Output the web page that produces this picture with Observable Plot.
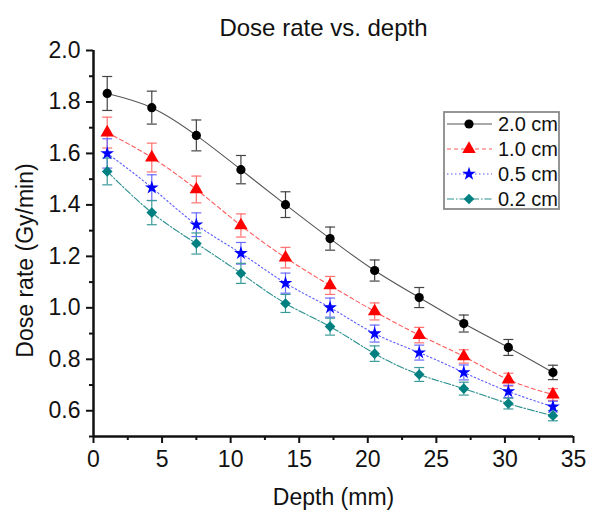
<!DOCTYPE html>
<html>
<head>
<meta charset="utf-8">
<script src="https://cdn.jsdelivr.net/npm/d3@7"></script>
<script src="https://cdn.jsdelivr.net/npm/@observablehq/plot@0.6"></script>
<style>
  body { margin: 0; background: white; }
  #chart { position: relative; width: 601px; height: 520px; font-family: "Liberation Sans", Arial, sans-serif; }
  #legend { position: absolute; left: 443px; top: 111px; }
</style>
</head>
<body>
<div id="chart"></div>
<script>
// ---- data ----
const depth = [1, 4.25, 7.5, 10.75, 14, 17.25, 20.5, 23.75, 27, 30.25, 33.5];
const seriesNames = ["2.0 cm", "1.0 cm", "0.5 cm", "0.2 cm"];
const rate20 = [1.833, 1.778, 1.670, 1.537, 1.401, 1.269, 1.145, 1.040, 0.939, 0.846, 0.749];
const err20  = [0.066, 0.064, 0.060, 0.055, 0.050, 0.045, 0.041, 0.039, 0.033, 0.031, 0.028];
const rate10 = [1.681, 1.584, 1.460, 1.320, 1.195, 1.087, 0.986, 0.894, 0.811, 0.721, 0.663];
const err10  = [0.060, 0.056, 0.052, 0.045, 0.040, 0.035, 0.033, 0.030, 0.026, 0.025, 0.023];
const rate05 = [1.600, 1.467, 1.323, 1.212, 1.096, 1.001, 0.900, 0.826, 0.749, 0.675, 0.616];
const err05  = [0.057, 0.050, 0.046, 0.042, 0.039, 0.037, 0.033, 0.029, 0.029, 0.024, 0.021];
const rate02 = [1.530, 1.370, 1.250, 1.134, 1.017, 0.927, 0.822, 0.741, 0.686, 0.628, 0.581];
const err02  = [0.052, 0.047, 0.041, 0.039, 0.035, 0.033, 0.030, 0.027, 0.025, 0.021, 0.020];
const xTicks = [0, 5, 10, 15, 20, 25, 30, 35];
const xMinor = [2.5, 7.5, 12.5, 17.5, 22.5, 27.5, 32.5];
const yTicks = [0.6, 0.8, 1.0, 1.2, 1.4, 1.6, 1.8, 2.0];
const yMinor = [0.5, 0.7, 0.9, 1.1, 1.3, 1.5, 1.7, 1.9];
const title = "Dose rate vs. depth";
const xLabel = "Depth (mm)";
const yLabel = "Dose rate (Gy/min)";

// ---- styles ----
const styles = [
  {color: "#000000", line: "#555555", err: "#444444", dash: null, symbol: "circle", r: 4.6},
  {color: "#ff0000", line: "#ff5a5a", err: "#ff7070", dash: "4,3", symbol: "triangle", r: 5},
  {color: "#0000ff", line: "#5a5aff", err: "#6a6aff", dash: "1.5,2.5", symbol: "star", r: 4.3},
  {color: "#008080", line: "#2a8f8f", err: "#3a9a9a", dash: "7,2,1.5,2", symbol: "diamond2", r: 4.8}
];
const values = [rate20, rate10, rate05, rate02];
const errors = [err20, err10, err05, err02];

const series = seriesNames.map((name, k) => ({
  name, style: styles[k],
  rows: depth.map((x, i) => ({x, y: values[k][i], e: errors[k][i]}))
}));

const cap = { draw(ctx) { ctx.moveTo(-5, 0); ctx.lineTo(5, 0); } };
const symbolMap = {circle: d3.symbolCircle, triangle: d3.symbolTriangle, star: d3.symbolStar, diamond2: d3.symbolDiamond2};

const marks = [];
for (const s of series) {
  const st = s.style;
  marks.push(Plot.ruleX(s.rows, {x: "x", y1: d => d.y - d.e, y2: d => d.y + d.e, stroke: st.err, strokeWidth: 1.2}));
  marks.push(Plot.dot(s.rows, {x: "x", y: d => d.y + d.e, symbol: cap, stroke: st.err, strokeWidth: 1.2, r: 3}));
  marks.push(Plot.dot(s.rows, {x: "x", y: d => d.y - d.e, symbol: cap, stroke: st.err, strokeWidth: 1.2, r: 3}));
}
for (const s of series) {
  const st = s.style;
  marks.push(Plot.line(s.rows, {x: "x", y: "y", stroke: st.line, strokeWidth: 1.1, strokeDasharray: st.dash, curve: "natural"}));
}
for (const s of series) {
  const st = s.style;
  marks.push(Plot.dot(s.rows, {x: "x", y: "y", symbol: st.symbol, fill: st.color, stroke: "none", r: st.r}));
}

const chart = Plot.plot({
  width: 601, height: 520,
  marginLeft: 93, marginRight: 28, marginTop: 50, marginBottom: 84,
  x: {domain: [0, 35]},
  y: {domain: [0.5, 2.0]},
  style: {fontFamily: "'Liberation Sans', Arial, sans-serif", fontSize: "23px", background: "white", color: "#111"},
  marks: [
    ...marks,
    Plot.ruleX([0], {strokeWidth: 2.5, stroke: "#111"}),
    Plot.ruleY([0.5], {strokeWidth: 2.5, stroke: "#111"}),
    Plot.axisY({ticks: yTicks, tickSize: 7, tickPadding: 6, tickFormat: d3.format(".1f"), label: null, strokeWidth: 2, fontSize: 23}),
    Plot.axisY({ticks: yMinor, tickSize: 4, tickFormat: () => "", label: null, strokeWidth: 2}),
    Plot.axisX({ticks: xTicks, tickSize: 7, tickPadding: 7, tickFormat: d3.format("d"), label: null, strokeWidth: 2, fontSize: 23}),
    Plot.axisX({ticks: xMinor, tickSize: 4, tickFormat: () => "", label: null, strokeWidth: 2}),
    Plot.text([title], {frameAnchor: "top", lineAnchor: "middle", text: d => d, dx: -10, dy: -22, fontSize: 24}),
    Plot.text([xLabel], {frameAnchor: "bottom", lineAnchor: "middle", text: d => d, dy: 61, fontSize: 23}),
    Plot.text([yLabel], {frameAnchor: "left", textAnchor: "middle", text: d => d, rotate: -90, dx: -68, dy: 17, fontSize: 23})
  ]
});

const root = document.getElementById("chart");
root.appendChild(chart);

// ---- legend (inside plot area) ----
const lw = 117, lh = 99, rowH = 25;
const legend = d3.select(root).append("svg").attr("id", "legend").attr("width", lw).attr("height", lh);
legend.append("rect").attr("x", 1).attr("y", 1).attr("width", lw - 2).attr("height", lh - 2)
  .attr("fill", "white").attr("stroke", "#8a8a8a").attr("stroke-width", 1.8);
series.forEach((s, i) => {
  const st = s.style;
  const cy = 13 + i * rowH;
  legend.append("line").attr("x1", 4).attr("x2", 49).attr("y1", cy).attr("y2", cy)
    .attr("stroke", st.line).attr("stroke-width", 1.1).attr("stroke-dasharray", st.dash);
  legend.append("path").attr("transform", `translate(26,${cy})`)
    .attr("d", d3.symbol(symbolMap[st.symbol], Math.PI * st.r * st.r)()).attr("fill", st.color);
  legend.append("text").attr("x", 55).attr("y", cy).attr("dy", "0.35em")
    .attr("font-family", "'Liberation Sans', Arial, sans-serif").attr("font-size", 20).attr("fill", "#111")
    .text(s.name);
});
</script>
</body>
</html>
